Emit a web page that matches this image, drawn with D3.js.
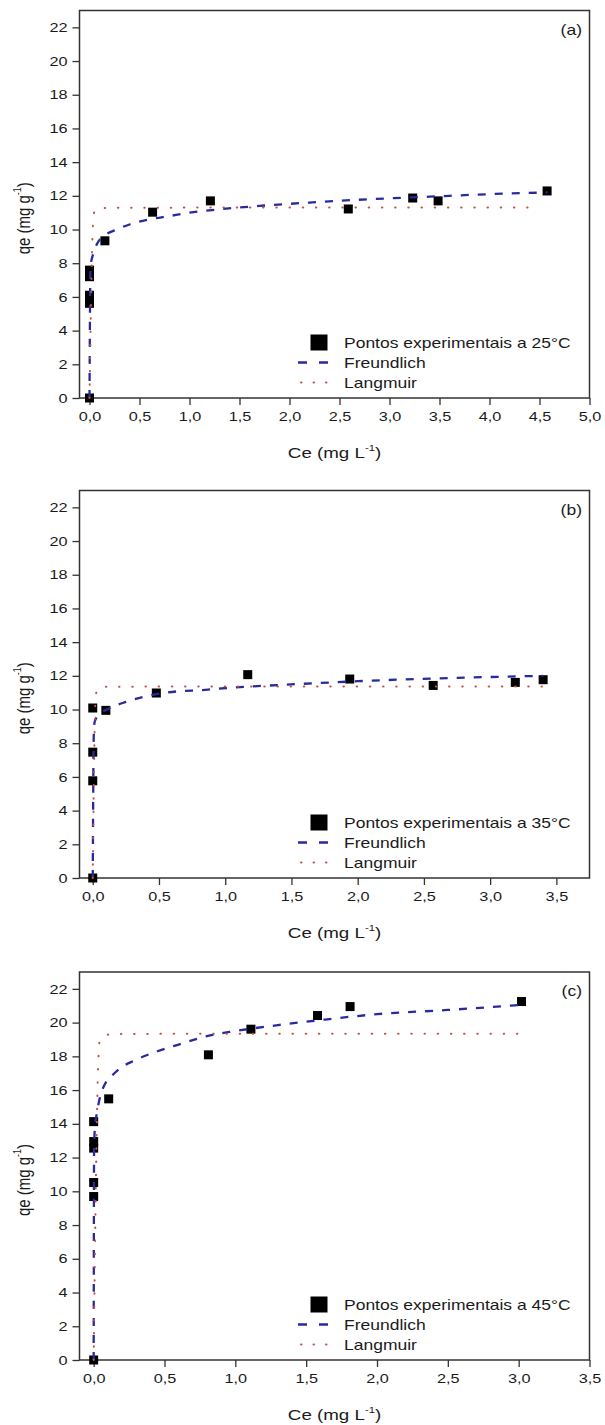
<!DOCTYPE html>
<html>
<head>
<meta charset="utf-8">
<script src="https://cdn.jsdelivr.net/npm/d3@7"></script>
<style>
body{margin:0;background:#fff;}
svg{display:block;font-family:"Liberation Sans",Arial,sans-serif;}
</style>
</head>
<body>
<svg id="chart" width="605" height="1425"></svg>
<script>
// values
var panelTags = ["(a)", "(b)", "(c)"];
var tempLabels = ["25°C", "35°C", "45°C"];
var xMax = [5.0, 3.75, 3.5];
var xTicksA = [0, 0.5, 1, 1.5, 2, 2.5, 3, 3.5, 4, 4.5, 5];
var xTicksBC = [0, 0.5, 1, 1.5, 2, 2.5, 3, 3.5];
var yTicks = [0, 2, 4, 6, 8, 10, 12, 14, 16, 18, 20, 22];

// (a) 25°C
var expA_ce = [0, 0, 0, 0, 0, 0.154, 0.631, 1.209, 2.588, 3.232, 3.486, 4.576];
var expA_qe = [0, 5.62, 6.1, 7.2, 7.59, 9.33, 11.03, 11.7, 11.22, 11.87, 11.7, 12.29];
var freA_ce = [0, 0.01, 0.04, 0.08, 0.14, 0.25, 0.4, 0.6, 0.8, 1.0, 1.3, 1.7, 2.2, 2.8, 3.4, 4.0, 4.58];
var freA_qe = [0, 7.8, 8.6, 9.2, 9.6, 9.95, 10.3, 10.6, 10.8, 11.0, 11.2, 11.4, 11.6, 11.8, 11.95, 12.1, 12.2];
var lanA_ce = [0, 0.03, 0.04, 0.07, 0.15, 1.0, 4.5];
var lanA_qe = [0, 9.6, 10.9, 11.2, 11.28, 11.3, 11.3];

// (b) 35°C
var expB_ce = [0, 0, 0, 0, 0.099, 0.48, 1.17, 1.94, 2.57, 3.19, 3.40];
var expB_qe = [0, 5.77, 7.47, 10.09, 9.95, 10.98, 12.07, 11.81, 11.43, 11.61, 11.77];
var freB_ce = [0, 0.008, 0.015, 0.05, 0.12, 0.25, 0.38, 0.55, 0.87, 1.05, 1.4, 2.0, 2.6, 3.0, 3.4];
var freB_qe = [0, 8.6, 9.3, 9.7, 10.05, 10.45, 10.75, 11.0, 11.18, 11.3, 11.45, 11.68, 11.85, 11.93, 12.0];
var lanB_ce = [0, 0.015, 0.023, 0.05, 0.1, 1.0, 3.42];
var lanB_qe = [0, 9.0, 10.9, 11.3, 11.35, 11.37, 11.37];

// (c) 45°C
var expC_ce = [0, 0, 0, 0, 0, 0, 0.106, 0.81, 1.11, 1.58, 1.81, 3.02];
var expC_qe = [0, 9.69, 10.52, 12.56, 12.95, 14.13, 15.48, 18.09, 19.61, 20.42, 20.95, 21.25];
var freC_ce = [0, 0.003, 0.01, 0.022, 0.06, 0.16, 0.3, 0.45, 0.6, 0.8, 1.0, 1.3, 1.6, 2.0, 2.5, 3.02];
var freC_qe = [0, 12.5, 13.9, 14.6, 16.0, 17.1, 17.8, 18.3, 18.7, 19.2, 19.5, 19.85, 20.15, 20.5, 20.75, 21.05];
var lanC_ce = [0, 0.03, 0.043, 0.08, 0.15, 1.0, 3.02];
var lanC_qe = [0, 17.0, 18.95, 19.25, 19.32, 19.34, 19.34];

function zip(a, b) { return a.map(function (v, i) { return [v, b[i]]; }); }

var panels = [
	{ top: 10.5, bottom: 398, ticks: xTicksA, exp: zip(expA_ce, expA_qe), fre: zip(freA_ce, freA_qe), lan: zip(lanA_ce, lanA_qe) },
	{ top: 490.5, bottom: 878, ticks: xTicksBC, exp: zip(expB_ce, expB_qe), fre: zip(freB_ce, freB_qe), lan: zip(lanB_ce, lanB_qe) },
	{ top: 972, bottom: 1360, ticks: xTicksBC, exp: zip(expC_ce, expC_qe), fre: zip(freC_ce, freC_qe), lan: zip(lanC_ce, lanC_qe) }
];

var left = 79.5, right = 589.5;
var stretch = 1.25; // the source picture is widened, so its text is too
var ink = "#1a1a1a", frameCol = "#333",
	blue = "#2a2a9c", red = "#c8504a";
var fmt = function (d) { return d3.format(".1f")(d).replace(".", ","); };

var svg = d3.select("#chart");
svg.append("rect").attr("width", 605).attr("height", 1425).attr("fill", "#fff");

panels.forEach(function (p, i) {
	var x = d3.scaleLinear().domain([-0.1, xMax[i]]).range([left, right]);
	var y = d3.scaleLinear().domain([0, 23]).range([p.bottom, p.top]);
	var g = svg.append("g");

	// axes
	var xa = g.append("g")
		.attr("transform", "translate(0," + p.bottom + ")")
		.call(d3.axisBottom(x).tickValues(p.ticks).tickFormat(fmt).tickSize(7).tickSizeOuter(0).tickPadding(7));
	var ya = g.append("g")
		.attr("transform", "translate(" + left + ",0)")
		.call(d3.axisLeft(y).tickValues(yTicks).tickSize(7).tickSizeOuter(0).tickPadding(5));
	[xa, ya].forEach(function (a) {
		a.select(".domain").remove();
		a.selectAll("line").attr("stroke", frameCol).attr("stroke-width", 1.3);
		a.selectAll("text").attr("fill", ink).attr("font-size", 13)
			.attr("font-family", "Liberation Sans, Arial, sans-serif")
			.attr("transform", "scale(" + stretch + ",1)");
	});
	ya.selectAll("text").attr("x", -12 / stretch);

	g.append("rect")
		.attr("x", left).attr("y", p.top)
		.attr("width", right - left).attr("height", p.bottom - p.top)
		.attr("fill", "none").attr("stroke", frameCol).attr("stroke-width", 1.5);

	// markers
	g.append("g").selectAll("rect")
		.data(p.exp).enter().append("rect")
		.attr("x", function (d) { return x(d[0]) - 4.5; })
		.attr("y", function (d) { return y(d[1]) - 4.5; })
		.attr("width", 9).attr("height", 9)
		.attr("fill", "#000");

	var line = d3.line()
		.x(function (d) { return x(d[0]); })
		.y(function (d) { return y(d[1]); })
		.curve(d3.curveMonotoneX);

	g.append("path").datum(p.fre)
		.attr("d", line).attr("fill", "none")
		.attr("stroke", blue).attr("stroke-width", 2.3)
		.attr("stroke-dasharray", "8,9");
	g.append("path").datum(p.lan)
		.attr("d", line).attr("fill", "none")
		.attr("stroke", red).attr("stroke-width", 2)
		.attr("stroke-linecap", "round")
		.attr("stroke-dasharray", "0.5,12.7");

	// panel tag
	g.append("text")
		.attr("transform", "translate(582," + (p.top + 24) + ") scale(" + stretch + ",1)")
		.attr("text-anchor", "end").attr("font-size", 14).attr("fill", ink)
		.text(panelTags[i]);

	// axis titles
	var xt = g.append("text")
		.attr("transform", "translate(" + ((left + right) / 2) + "," + (p.bottom + 60) + ") scale(" + stretch + ",1)")
		.attr("text-anchor", "middle").attr("font-size", 15).attr("fill", ink);
	xt.append("tspan").text("Ce (mg L");
	xt.append("tspan").attr("font-size", 9).attr("dy", -7).text("-1");
	xt.append("tspan").attr("dy", 7).text(")");

	var yt = g.append("text")
		.attr("transform", "translate(30," + ((p.top + p.bottom) / 2 + 14) + ") rotate(-90) scale(1," + stretch + ")")
		.attr("text-anchor", "middle").attr("font-size", 15).attr("fill", ink);
	yt.append("tspan").text("qe (mg g");
	yt.append("tspan").attr("font-size", 9).attr("dy", -7).text("-1");
	yt.append("tspan").attr("dy", 7).text(")");

	// legend
	var lg = g.append("g");
	var r1 = p.bottom - 55.5, r2 = p.bottom - 35.5, r3 = p.bottom - 15.5;
	lg.append("rect").attr("x", 310.5).attr("y", r1 - 8).attr("width", 17).attr("height", 16).attr("fill", "#000");
	lg.append("line").attr("x1", 298).attr("x2", 328).attr("y1", r2).attr("y2", r2)
		.attr("stroke", blue).attr("stroke-width", 2.3).attr("stroke-dasharray", "9,12");
	lg.append("line").attr("x1", 301).attr("x2", 328).attr("y1", r3).attr("y2", r3)
		.attr("stroke", red).attr("stroke-width", 2).attr("stroke-linecap", "round")
		.attr("stroke-dasharray", "0.5,12");
	[["Pontos experimentais a " + tempLabels[i], r1], ["Freundlich", r2], ["Langmuir", r3]].forEach(function (t) {
		lg.append("text")
			.attr("transform", "translate(344," + t[1] + ") scale(" + stretch + ",1)")
			.attr("dy", "0.36em").attr("font-size", 14).attr("fill", ink)
			.text(t[0]);
	});
});
</script>
</body>
</html>
